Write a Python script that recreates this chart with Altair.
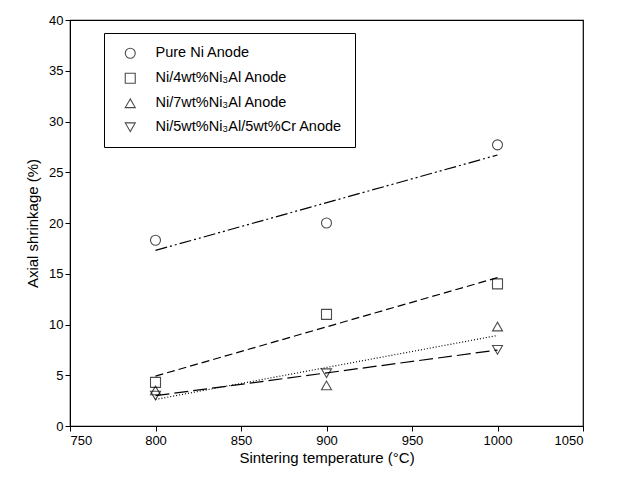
import altair as alt
import pandas as pd

series_names = ["Pure Ni Anode", "Ni/4wt%Ni₃Al Anode", "Ni/7wt%Ni₃Al Anode", "Ni/5wt%Ni₃Al/5wt%Cr Anode"]
temps = [800, 900, 1000]
pure_ni = [18.3, 20.0, 27.7]
ni4 = [4.3, 11.0, 14.0]
ni7 = [3.5, 4.0, 9.8]
ni5cr = [3.0, 5.2, 7.5]
shapes = ["circle", "square", "triangle-up", "triangle-down"]
dashes = [[12, 3, 2, 3, 2, 3], [8, 4], [1, 2], [14, 5]]

rows = []
for name, vals in zip(series_names, [pure_ni, ni4, ni7, ni5cr]):
    for t, v in zip(temps, vals):
        rows.append({"series": name, "temp": t, "shrink": v})
df = pd.DataFrame(rows)

font = "Liberation Sans"
xscale = alt.Scale(domain=[750, 1050], nice=False, zero=False)
yscale = alt.Scale(domain=[0, 40], nice=False)

base = alt.Chart(df)

points = base.mark_point(filled=False, size=100, strokeWidth=1.1, color="black").encode(
    x=alt.X("temp:Q", scale=xscale,
            axis=alt.Axis(title="Sintering temperature (°C)", values=[750, 800, 850, 900, 950, 1000, 1050],
                          format="d", grid=False, tickColor="black", domainColor="black", labelColor="black",
                          titleColor="black", labelFontSize=13, titleFontSize=15, titleFontWeight="normal",
                          labelFont=font, titleFont=font, tickSize=5, titlePadding=3, labelPadding=3)),
    y=alt.Y("shrink:Q", scale=yscale,
            axis=alt.Axis(title="Axial shrinkage (%)", values=list(range(0, 41, 5)),
                          grid=False, tickColor="black", domainColor="black", labelColor="black",
                          titleColor="black", labelFontSize=13, titleFontSize=15, titleFontWeight="normal",
                          labelFont=font, titleFont=font, tickSize=5, titlePadding=8)),
    shape=alt.Shape("series:N", scale=alt.Scale(domain=series_names, range=shapes),
                    legend=alt.Legend(title=None, orient="none", legendX=34, legendY=13,
                                      strokeColor="black", padding=13, labelFont=font, labelFontSize=14.5,
                                      labelColor="black", symbolStrokeColor="black", symbolFillColor="white",
                                      symbolSize=100, symbolStrokeWidth=1.1, rowPadding=9, labelOffset=18,
                                      symbolOffset=6, labelLimit=400, fillColor="white")),
)

lines = base.transform_regression("temp", "shrink", groupby=["series"]).transform_calculate(
    fit="datum.series"
).mark_line(color="black", strokeWidth=1.2).encode(
    x=alt.X("temp:Q", scale=xscale),
    y=alt.Y("shrink:Q", scale=yscale),
    strokeDash=alt.StrokeDash("fit:N", scale=alt.Scale(domain=series_names, range=dashes), legend=None),
)

chart = alt.layer(lines, points).resolve_legend(shape="independent", strokeDash="independent").properties(
    width=513, height=406,
    autosize=alt.AutoSizeParams(type="none"),
    padding={"left": 70, "top": 20, "right": 34, "bottom": 53},
    background="white",
).configure_view(stroke="black", strokeWidth=1.2)

chart.save("out.html", embed_options={"renderer": "svg", "actions": False})
